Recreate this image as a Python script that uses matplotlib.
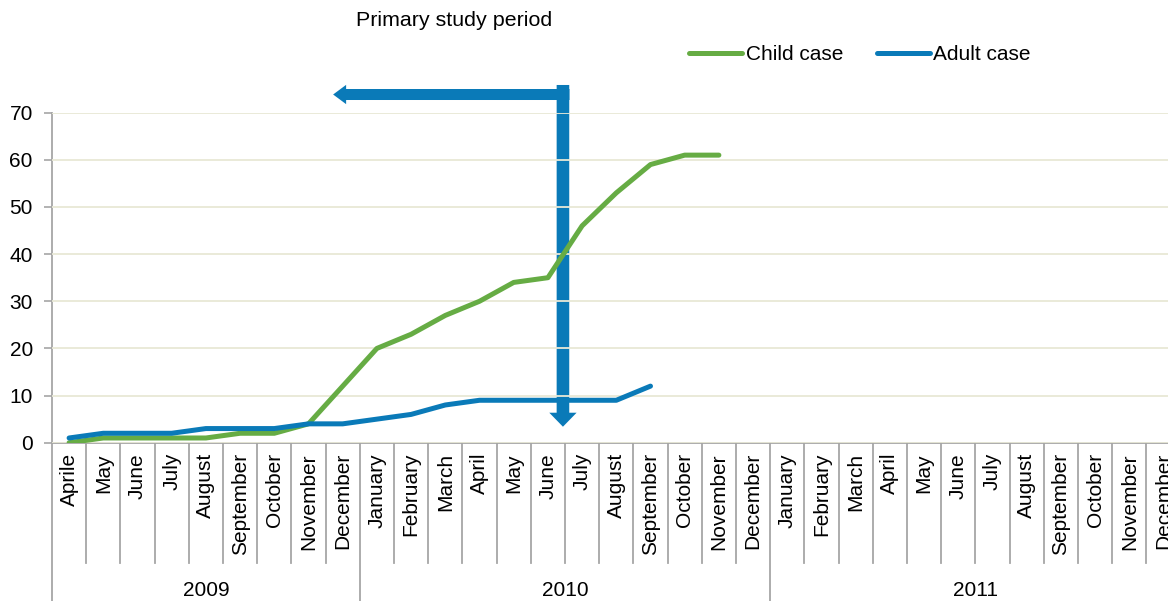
import matplotlib
matplotlib.use("Agg")
import matplotlib.pyplot as plt
from matplotlib.patches import FancyArrowPatch

# ---- data -------------------------------------------------------------
years = ["2009", "2010", "2011"]
months_2009 = ["Aprile", "May", "June", "July", "August", "September",
               "October", "November", "December"]
months_full = ["January", "February", "March", "April", "May", "June", "July",
               "August", "September", "October", "November", "December"]
month_labels = months_2009 + months_full + months_full
year_lengths = [len(months_2009), len(months_full), len(months_full)]

child_case = [0, 1, 1, 1, 1, 2, 2, 4, 12, 20, 23, 27, 30, 34, 35, 46, 53, 59, 61, 61]
adult_case = [1, 2, 2, 2, 3, 3, 3, 4, 4, 5, 6, 8, 9, 9, 9, 9, 9, 12]

y_ticks = [0, 10, 20, 30, 40, 50, 60, 70]

# ---- styling ----------------------------------------------------------
GREEN = "#66AC44"
BLUE = "#0A7AB8"
GRID = "#E8E8D6"
AXIS = "#A6A6A6"
FS = 15

plt.rcParams["font.family"] = ["Liberation Sans", "DejaVu Sans"]

W, H, DPI = 1168, 601, 100
fig = plt.figure(figsize=(W / DPI, H / DPI), dpi=DPI)

# plot area in pixels: left 52, top 112.7, bottom 442.7, category width 34.2
left_px, top_px, bot_px, cat_px = 52, 112.7, 442.7, 34.2
n = len(month_labels)
ax = fig.add_axes([left_px / W, 1 - bot_px / H,
                   n * cat_px / W, (bot_px - top_px) / H])

x_child = list(range(len(child_case)))
x_adult = list(range(len(adult_case)))

ax.plot(x_child, child_case, color=GREEN, lw=3.6, zorder=3,
        solid_capstyle="round", solid_joinstyle="round", label="Child case")
ax.plot(x_adult, adult_case, color=BLUE, lw=3.6, zorder=3,
        solid_capstyle="round", solid_joinstyle="round", label="Adult case")

ax.set_xlim(-0.5, n - 0.5)
ax.set_ylim(0, 70)
ax.set_yticks(y_ticks)
ax.set_xticks([])
ax.tick_params(axis="y", direction="out", length=5.8, width=1.2,
               color=AXIS, labelsize=FS, pad=8.0)
ax.set_axisbelow(False)
ax.yaxis.grid(True, color=GRID, lw=1.3)
for s in ("top", "right"):
    ax.spines[s].set_visible(False)
for s in ("left", "bottom"):
    ax.spines[s].set_color(AXIS)
    ax.spines[s].set_linewidth(1.3)

# ---- category axis: month separators, labels, year groups -------------
xt = ax.get_xaxis_transform()
px_to_axes = 1.0 / (bot_px - top_px)
month_sep_bottom = -(563.3 - bot_px) * px_to_axes
year_sep_bottom = -(620 - bot_px) * px_to_axes

year_edges = [-0.5]
for L in year_lengths:
    year_edges.append(year_edges[-1] + L)

for k in range(1, n):
    xb = k - 0.5
    if xb in year_edges:
        continue
    ax.plot([xb, xb], [0, month_sep_bottom], transform=xt, color=AXIS,
            lw=1.3, clip_on=False, zorder=2)
for xb in year_edges:
    ax.plot([xb, xb], [0, year_sep_bottom], transform=xt, color=AXIS,
            lw=1.3, clip_on=False, zorder=2)

label_top = -(453 - bot_px) * px_to_axes
for i, lab in enumerate(month_labels):
    ax.text(i, label_top, lab, transform=xt, rotation=90, ha="center",
            va="top", fontsize=FS, clip_on=False)

year_y = -(590 - bot_px) * px_to_axes
for yr, a, b in zip(years, year_edges[:-1], year_edges[1:]):
    ax.text((a + b) / 2, year_y, yr, transform=xt, ha="center",
            va="center", fontsize=FS, clip_on=False)

# ---- study-period arrows ----------------------------------------------
pt = DPI / 72.0
h_arrow = FancyArrowPatch(
    (14.63, 73.86), (7.72, 73.86),
    arrowstyle=f"simple,tail_width={11 / pt},head_width={19.3 / pt},head_length={13 / pt}",
    mutation_scale=1, shrinkA=0, shrinkB=0, color=BLUE, lw=0,
    clip_on=False, zorder=1)
v_arrow = FancyArrowPatch(
    (14.44, 75.88), (14.44, 3.39),
    arrowstyle=f"simple,tail_width={12.6 / pt},head_width={27.3 / pt},head_length={14 / pt}",
    mutation_scale=1, shrinkA=0, shrinkB=0, color=BLUE, lw=0,
    clip_on=False, zorder=1)
ax.add_patch(h_arrow)
ax.add_patch(v_arrow)

fig.text(356 / W, 1 - 21 / H, "Primary study period", fontsize=15.4,
         ha="left", va="center")

fig.legend(loc="center left", bbox_to_anchor=(689 / W, 1 - 55 / H),
           ncol=2, frameon=False, fontsize=FS, handlelength=2.55,
           handletextpad=0.18, columnspacing=1.6, borderpad=0,
           borderaxespad=0)

fig.savefig("out.png", dpi=DPI)
